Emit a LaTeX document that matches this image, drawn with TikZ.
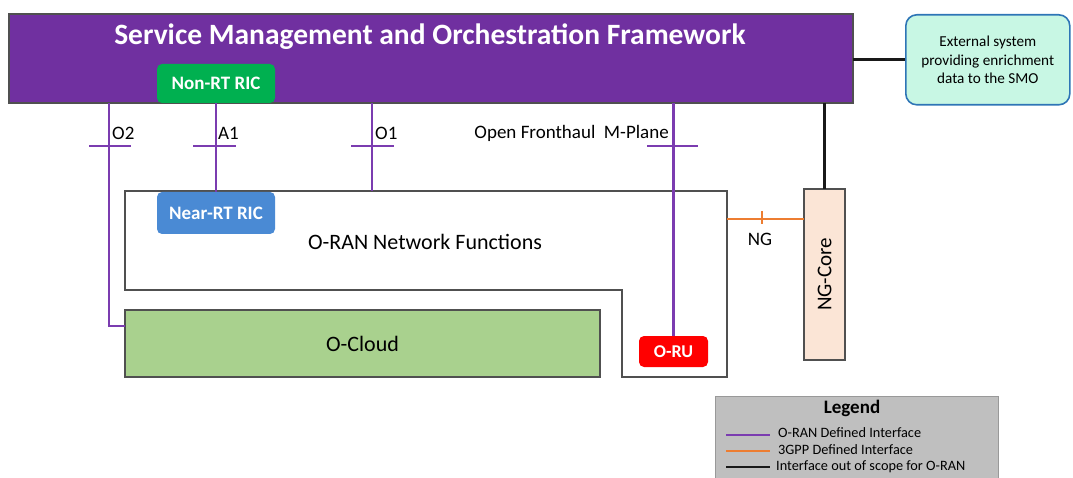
\documentclass[tikz,border=0pt]{standalone}
\usepackage{fontspec}
\setmainfont{Carlito}
\definecolor{smopurple}{HTML}{7030A0}
\definecolor{oranpurple}{HTML}{7B3CB0}
\definecolor{ricgreen}{HTML}{00B050}
\definecolor{ricblue}{HTML}{4A8AD4}
\definecolor{orured}{HTML}{FF0000}
\definecolor{gpporange}{HTML}{ED7D31}
\definecolor{cloudgreen}{HTML}{A9D18E}
\definecolor{corepeach}{HTML}{FBE5D6}
\definecolor{extfill}{HTML}{C8F7E4}
\definecolor{extblue}{HTML}{2E75B6}
\definecolor{legendgray}{HTML}{BFBFBF}
\definecolor{edgegray}{HTML}{505050}
\begin{document}
\begin{tikzpicture}[x=1pt,y=-1pt,
  box/.style={draw=edgegray, line width=1.2pt, inner sep=0pt, outer sep=0pt, anchor=north west},
  ric/.style={rounded corners=5pt, inner sep=0pt, outer sep=0pt, anchor=north west, text=white, font=\fontsize{19}{21}\selectfont\bfseries},
  oran/.style={draw=oranpurple, line width=2.7pt},
  gpp/.style={draw=gpporange, line width=2.7pt},
  oos/.style={draw=black!90, line width=2.7pt},
  lbl/.style={font=\fontsize{19}{21}\selectfont, inner sep=0pt},
  big/.style={font=\fontsize{22}{24}\selectfont, inner sep=0pt},
  legtxt/.style={font=\fontsize{14.3}{16}\selectfont, inner sep=0pt, anchor=west},
]
\useasboundingbox (0,0) rectangle (1073,478);
% SMO
\node[box, fill=smopurple, minimum width=844pt, minimum height=89pt] (smo) at (9,14) {};
\node[text=white, font=\fontsize{29.5}{32}\selectfont\bfseries, inner sep=0pt] (title) at (430,37) {Service Management and Orchestration Framework};
\node[ric, fill=ricgreen, minimum width=118pt, minimum height=39pt] (nonrt) at (157,64) {Non-RT RIC};
% External system
\node[draw=extblue, line width=1.6pt, fill=extfill, rounded corners=11pt, minimum width=164pt, minimum height=90pt, anchor=north west, align=center, inner sep=0pt, font=\fontsize{15.2}{18.5}\selectfont] (ext) at (905,14) {External system\\providing enrichment\\data to the SMO};
% O-RAN network functions outline
\coordinate (nfA) at (125,191);
\coordinate (nfB) at (727,191);
\coordinate (nfC) at (727,377);
\coordinate (nfD) at (622,377);
\coordinate (nfE) at (622,290);
\coordinate (nfF) at (125,290);
\draw[draw=edgegray, line width=1.2pt] (nfA) -- (nfB) -- (nfC) -- (nfD) -- (nfE) -- (nfF) -- cycle;
\node[big] (nflabel) at (425,242) {O-RAN Network Functions};
\node[ric, fill=ricblue, minimum width=118pt, minimum height=42pt] (nrt) at (157,192) {Near-RT RIC};
% O-Cloud
\node[box, fill=cloudgreen, minimum width=475pt, minimum height=67pt] (ocloud) at (125,310) {};
\node[big] (ocloudlabel) at (ocloud.center) {O-Cloud};
% O-RU
\node[ric, fill=orured, minimum width=69pt, minimum height=31pt, font=\fontsize{18}{20}\selectfont\bfseries] (oru) at (639,336) {O-RU};
% NG-Core
\node[box, fill=corepeach, minimum width=41pt, minimum height=171pt] (ngcore) at (804,189) {};
\node[rotate=90, font=\fontsize{21}{23}\selectfont, inner sep=0pt] (ngcorelabel) at (ngcore.center) {NG-Core};
% connectors
\draw[oos] (ext.west -| smo.east) -- (ext.west);
\coordinate (o2top) at (109,103);
\coordinate (o2end) at (125,326);
\draw[oran] (o2top) |- (o2end);
\draw[oran] (nonrt.south) -- (nrt.north);
\coordinate (o1top) at (372,103);
\coordinate (o1bot) at (372,191);
\draw[oran] (o1top) -- (o1bot);
\draw[oran] (smo.south -| oru.north) -- (oru.north);
\draw[oos] (smo.south -| ngcore.north) -- (ngcore.north);
\coordinate (ngstart) at (727,219);
\draw[gpp] (ngstart) -- (ngstart -| ngcore.west);
% ticks
\draw[oran] (89,146) -- (131,146);
\draw[oran] (193,146) -- (236,146);
\draw[oran] (351,146) -- (394,146);
\draw[oran] (647,146) -- (698,146);
\draw[gpp] (762,211) -- (762,224);
% labels
\node[lbl, anchor=west] (o2lbl) at (112,133) {O2};
\node[lbl, anchor=west] (a1lbl) at (218,133) {A1};
\node[lbl, anchor=west] (o1lbl) at (375,133) {O1};
\node[lbl, anchor=east] (mplbl) at (669,133) {Open Fronthaul\ \ M-Plane};
\node[lbl] (nglbl) at (760,239) {NG};
% legend
\node[fill=legendgray, draw=legendgray!80!black, line width=0.5pt, minimum width=283pt, minimum height=90pt, anchor=north west, inner sep=0pt] (legend) at (715,396) {};
\node[font=\fontsize{19}{21}\selectfont\bfseries, inner sep=0pt] (legtitle) at (852,408) {Legend};
\coordinate (l1) at (726,435);
\coordinate (l2) at (726,451);
\coordinate (l3) at (726,467);
\draw[oran] (l1) -- ++(44,0);
\draw[gpp] (l2) -- ++(44,0);
\draw[oos] (l3) -- ++(44,0);
\node[legtxt] (lt1) at (778,433) {O-RAN Defined Interface};
\node[legtxt] (lt2) at (778,450) {3GPP Defined Interface};
\node[legtxt] (lt3) at (776,467) {Interface out of scope for O-RAN};
\end{tikzpicture}
\end{document}
